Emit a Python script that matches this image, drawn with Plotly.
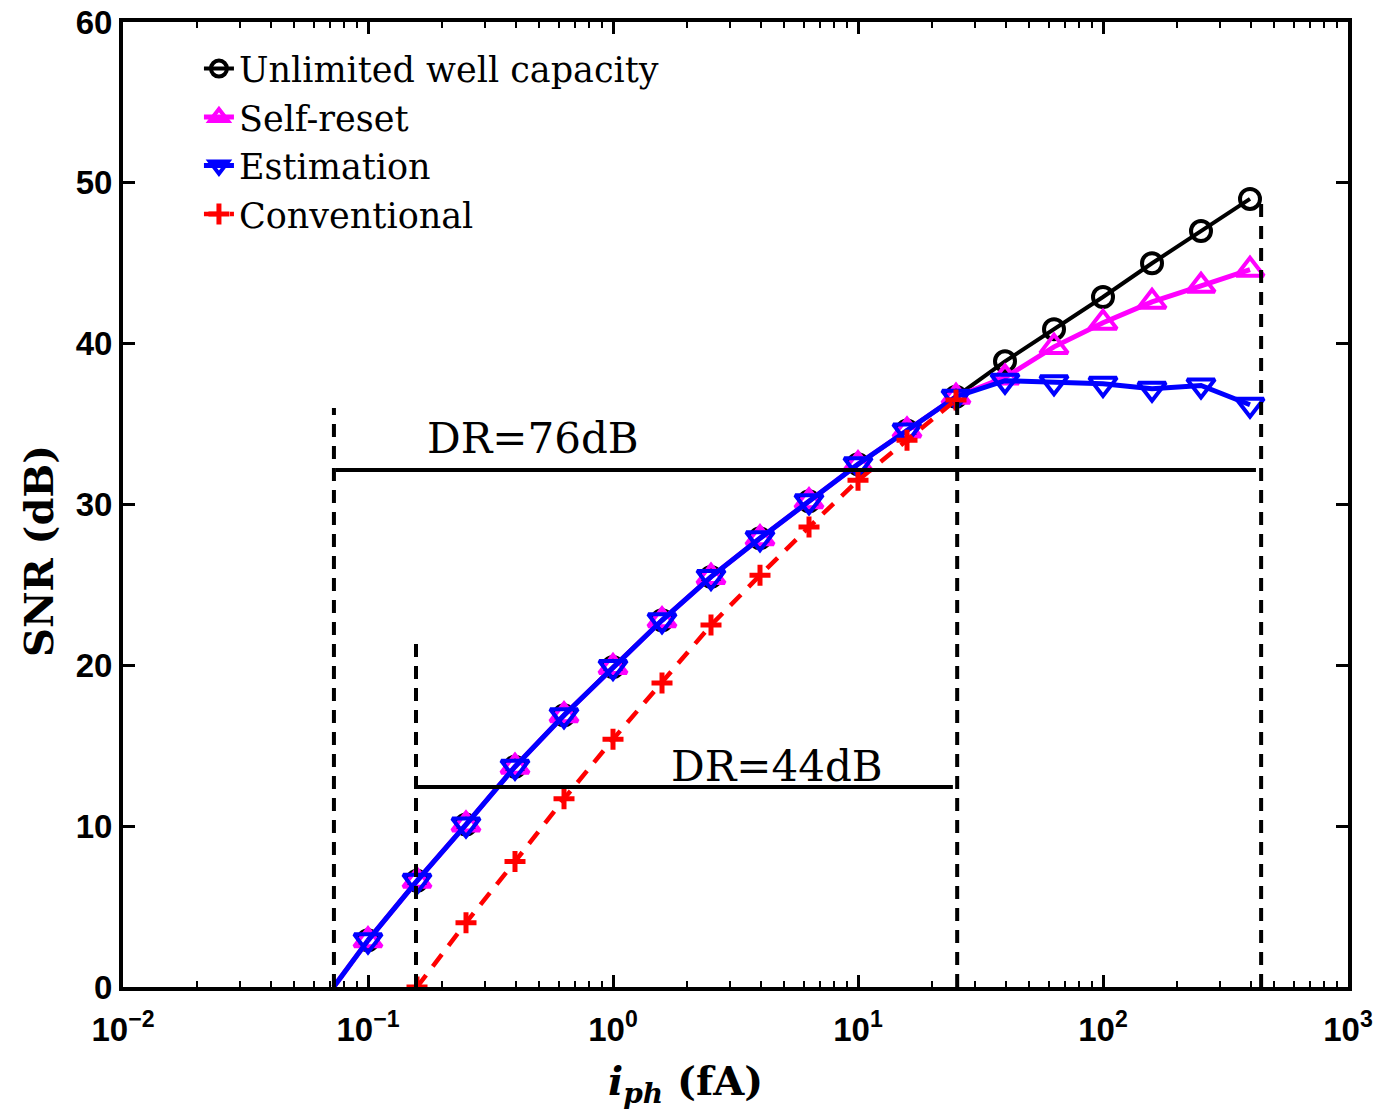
import math
import plotly.graph_objects as go

# ---------------- data ----------------
x_start = 0.0724
snr_start = 0.0
x_pts = [0.1, 0.1585, 0.2512, 0.3981, 0.631, 1.0, 1.585, 2.512, 3.981, 6.31,
         10.0, 15.85, 25.12, 39.81, 63.1, 100.0, 158.5, 251.2, 398.1]

snr_common = [2.9, 6.6, 10.1, 13.7, 16.9, 19.9, 22.8, 25.5, 27.9, 30.2,
              32.5, 34.6, 36.7]
unlimited_tail = [38.9, 40.9, 42.9, 45.0, 47.0, 49.0]
selfreset_tail = [37.9, 39.8, 41.3, 42.6, 43.6, 44.6]
estimation_tail = [37.7, 37.6, 37.5, 37.2, 37.4, 36.2]

conv_x = [0.1585, 0.2512, 0.3981, 0.631, 1.0, 1.585, 2.512, 3.981, 6.31,
          10.0, 15.85, 25.12]
conv_snr = [0.0, 4.0, 7.8, 11.7, 15.4, 18.9, 22.5, 25.6, 28.6, 31.5, 34.0, 36.5]

# dynamic range marker lines
vline_x = [0.0726, 0.157, 25.4, 442.0]
vline_top = [36.0, 21.7, 36.5, 49.2]
dr76_x = [0.074, 421.0]
dr76_y = 32.15
dr44_x = [0.157, 24.4]
dr44_y = 12.44
dr76_label = "DR=76dB"
dr44_label = "DR=44dB"
dr76_pos = (0.47, 34.1)
dr44_pos = (4.67, 13.7)

names = ["Unlimited well capacity", "Self-reset", "Estimation", "Conventional"]
xtick_vals = [0.01, 0.1, 1, 10, 100, 1000]
xtick_text = ["10<sup>−2</sup>", "10<sup>−1</sup>", "10<sup>0</sup>",
              "10<sup>1</sup>", "10<sup>2</sup>", "10<sup>3</sup>"]
ytick_vals = [0, 10, 20, 30, 40, 50, 60]

# ---------------- figure ----------------
series = [
    (names[0], snr_common + unlimited_tail, "black", 4, "circle-open", 20),
    (names[1], snr_common + selfreset_tail, "#ff00ff", 5, "triangle-up-open", 24),
    (names[2], snr_common + estimation_tail, "#0000ff", 5, "triangle-down-open", 24),
]

fig = go.Figure()

for name, ys, col, lw, sym, ms in series:
    # leading segment from the SNR=0 crossing to the first sampled point (no marker)
    fig.add_trace(go.Scatter(
        x=[x_start, x_pts[0]], y=[snr_start, ys[0]], mode="lines",
        showlegend=False, hoverinfo="skip", line=dict(color=col, width=lw)))
    fig.add_trace(go.Scatter(
        x=x_pts, y=ys, name=name, mode="lines+markers",
        line=dict(color=col, width=lw),
        marker=dict(symbol=sym, size=ms, color=col, line=dict(width=4, color=col))))

fig.add_trace(go.Scatter(
    x=conv_x, y=conv_snr, name=names[3],
    mode="lines+markers",
    line=dict(color="#ff0000", width=4.5, dash="15px,11px"),
    marker=dict(symbol="cross-thin", size=15, color="#ff0000",
                line=dict(width=5, color="#ff0000"))))

for xv, top in zip(vline_x, vline_top):
    fig.add_trace(go.Scatter(
        x=[xv, xv], y=[0, top], mode="lines", showlegend=False, hoverinfo="skip",
        line=dict(color="black", width=4, dash="13px,9px")))

fig.add_trace(go.Scatter(x=dr76_x, y=[dr76_y, dr76_y], mode="lines",
                         showlegend=False, line=dict(color="black", width=4)))
fig.add_trace(go.Scatter(x=dr44_x, y=[dr44_y, dr44_y], mode="lines",
                         showlegend=False, line=dict(color="black", width=4)))

serif = "DejaVu Serif"
fig.add_annotation(x=math.log10(dr76_pos[0]), y=dr76_pos[1],
                   text=dr76_label, showarrow=False,
                   font=dict(family=serif, size=42, color="black"))
fig.add_annotation(x=math.log10(dr44_pos[0]), y=dr44_pos[1],
                   text=dr44_label, showarrow=False,
                   font=dict(family=serif, size=42, color="black"))

# x axis title as annotation
fig.add_annotation(xref="paper", yref="paper", x=(685 - 123) / 1225,
                   y=-(1083 - 987) / 965, yanchor="middle", showarrow=False,
                   text="<b><i>i</i><sub><i>ph</i></sub> (fA)</b>",
                   font=dict(family=serif, size=40, color="black"))

# y axis title as annotation
fig.add_annotation(xref="paper", yref="paper", x=-(123 - 38) / 1225,
                   y=(987 - 551) / 965, xanchor="center", yanchor="middle",
                   showarrow=False, textangle=-90,
                   text="<b>SNR (dB)</b>",
                   font=dict(family=serif, size=40, color="black"))

tickfont = dict(family="Liberation Sans", size=33, color="black")

fig.update_xaxes(
    type="log", range=[-2, 3], automargin=False,
    tickvals=xtick_vals, ticktext=["<b>%s</b>" % t for t in xtick_text],
    tickfont=tickfont, ticklabelstandoff=10,
    ticks="inside", ticklen=12, tickwidth=3, tickcolor="black",
    minor=dict(ticks="inside", ticklen=6, tickwidth=2, tickcolor="black",
               dtick="D1", showgrid=False),
    showline=True, linewidth=4, linecolor="black", mirror="ticks",
    showgrid=False, zeroline=False)
fig.update_yaxes(
    range=[0, 60], tickvals=ytick_vals, automargin=False,
    ticktext=["<b>%d</b>" % v for v in ytick_vals], tickfont=tickfont,
    ticks="inside", ticklen=12, tickwidth=3, tickcolor="black",
    showline=True, linewidth=4, linecolor="black", mirror="ticks",
    showgrid=False, zeroline=False)

fig.update_layout(
    width=1380, height=1113,
    margin=dict(l=123, r=32, t=22, b=126),
    plot_bgcolor="white", paper_bgcolor="white",
    legend=dict(x=0.062, y=0.982, xanchor="left", yanchor="top",
                bgcolor="rgba(0,0,0,0)", borderwidth=0,
                font=dict(family=serif, size=35, color="black"),
                tracegroupgap=0),
)

fig.write_html("out.html", config={"displayModeBar": False},
               post_script="document.body.style.margin='0';document.body.style.overflow='hidden';")
